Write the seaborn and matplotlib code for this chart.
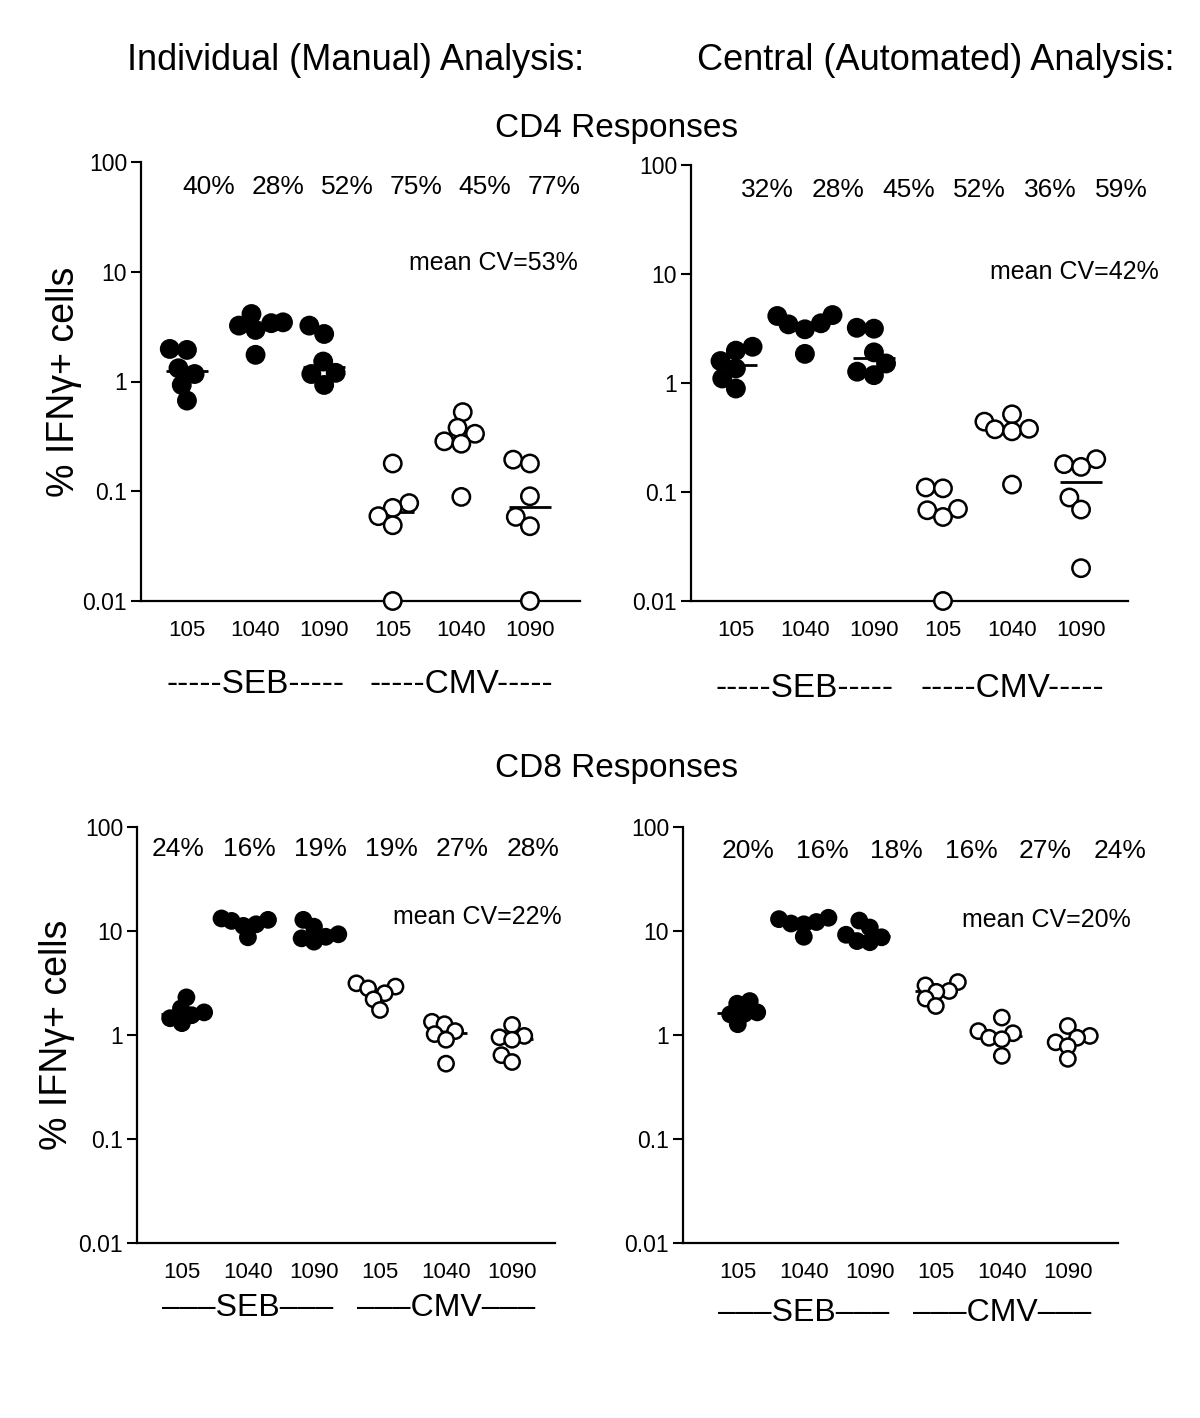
import numpy as np
import matplotlib
matplotlib.use('Agg')
import matplotlib.pyplot as plt
import pandas as pd
import seaborn as sns

# categories
stims = ['SEB', 'SEB', 'SEB', 'CMV', 'CMV', 'CMV']
donors = ['105', '1040', '1090', '105', '1040', '1090']

# % IFNg+ cells, six labs per group
cd4_manual = [
    [1.98, 1.94, 1.32, 1.17, 0.93, 0.67],
    [3.46, 3.23, 4.12, 2.95, 1.75, 3.40],
    [3.23, 2.71, 1.52, 1.20, 1.17, 0.93],
    [0.179, 0.078, 0.0705, 0.0593, 0.049, 0.01],
    [0.526, 0.379, 0.334, 0.285, 0.271, 0.0888],
    [0.194, 0.179, 0.090, 0.0584, 0.048, 0.01],
]
cd4_auto = [
    [2.15, 1.98, 1.59, 1.36, 1.10, 0.89],
    [4.12, 3.53, 4.20, 3.11, 1.85, 3.45],
    [3.21, 3.15, 1.91, 1.51, 1.27, 1.18],
    [0.11, 0.108, 0.070, 0.068, 0.059, 0.01],
    [0.516, 0.442, 0.376, 0.36, 0.38, 0.117],
    [0.20, 0.18, 0.17, 0.089, 0.069, 0.02],
]
cd8_manual = [
    [2.3, 1.8, 1.65, 1.55, 1.45, 1.3],
    [13.2, 12.8, 11.2, 11.6, 8.7, 12.5],
    [12.8, 11.0, 8.8, 7.9, 8.5, 9.3],
    [3.14, 2.92, 2.81, 2.52, 2.2, 1.74],
    [1.34, 1.27, 1.09, 1.02, 0.90, 0.53],
    [1.25, 0.98, 0.95, 0.90, 0.64, 0.55],
]
cd8_auto = [
    [2.12, 2.0, 1.58, 1.6, 1.27, 1.65],
    [13.4, 13.0, 11.6, 11.8, 8.8, 12.2],
    [12.6, 10.8, 8.7, 7.8, 8.0, 9.2],
    [3.23, 3.0, 2.65, 2.6, 2.24, 1.9],
    [1.47, 1.09, 1.04, 0.94, 0.91, 0.63],
    [1.22, 0.98, 0.94, 0.85, 0.78, 0.59],
]

# CV labels
cv4_manual = ['40%', '28%', '52%', '75%', '45%', '77%']
cv4_auto = ['32%', '28%', '45%', '52%', '36%', '59%']
cv8_manual = ['24%', '16%', '19%', '19%', '27%', '28%']
cv8_auto = ['20%', '16%', '18%', '16%', '27%', '24%']
mean_cv = ['mean CV=53%', 'mean CV=42%', 'mean CV=22%', 'mean CV=20%']

yticks = [0.01, 0.1, 1, 10, 100]
ytick_labels = ['0.01', '0.1', '1', '10', '100']

sns.set_style('ticks')
plt.rcParams['font.family'] = ['Liberation Sans', 'DejaVu Sans']
for key in ['text.color', 'axes.labelcolor', 'xtick.color', 'ytick.color', 'axes.edgecolor']:
    plt.rcParams[key] = 'black'

fig = plt.figure(figsize=(12, 14.18), dpi=100)

W, H = 1200, 1418
def rect(x0, y0, x1, y1):
    return [x0 / W, 1 - y1 / H, (x1 - x0) / W, (y1 - y0) / H]

panels = [
    dict(data=cd4_manual, cvs=cv4_manual, rect=rect(141, 162, 580, 601), xlim=(-0.67, 5.73),
         size=12.5, layout=10, pct=(0.155, 0.157, 0.943), cv=(0.995, 0.77), grp=-0.19,
         dash='-----', dsize=24, ylab=(-0.135, 0.5)),
    dict(data=cd4_auto, cvs=cv4_auto, rect=rect(691, 165, 1128, 601), xlim=(-0.65, 5.68),
         size=12.5, layout=10, pct=(0.174, 0.162, 0.943), cv=(1.07, 0.755), grp=-0.2,
         dash='-----', dsize=24, ylab=None),
    dict(data=cd8_manual, cvs=cv8_manual, rect=rect(137, 827, 555, 1243), xlim=(-0.68, 5.65),
         size=11, layout=7, pct=(0.098, 0.17, 0.947), cv=(1.017, 0.784), grp=-0.156,
         dash='\u2013\u2013\u2013', dsize=23, ylab=(-0.148, 0.5)),
    dict(data=cd8_auto, cvs=cv8_auto, rect=rect(683, 827, 1118, 1243), xlim=(-0.83, 5.76),
         size=11, layout=7, pct=(0.149, 0.171, 0.942), cv=(1.03, 0.776), grp=-0.168,
         dash='\u2013\u2013\u2013', dsize=23, ylab=None),
]

order = [f'{s} {d}' for s, d in zip(stims, donors)]
swarms = []

for k, p in enumerate(panels):
    ax = fig.add_axes(p['rect'])
    rows = []
    for g, vals in zip(order, p['data']):
        for v in vals:
            rows.append({'group': g, 'value': v, 'stim': g.split()[0]})
    df = pd.DataFrame(rows)

    # median bars
    sns.boxplot(data=df, x='group', y='value', order=order, log_scale=True,
                width=0.62, showbox=False, showcaps=False, showfliers=False,
                whiskerprops={'visible': False},
                medianprops={'color': 'black', 'linewidth': 2},
                ax=ax)
    for ln in ax.lines:
        ln.set_zorder(1)

    # swarm laid out with smaller markers so the clusters overlap like the original
    n_before = len(ax.collections)
    sns.swarmplot(data=df, x='group', y='value', order=order, hue='stim',
                  palette={'SEB': 'black', 'CMV': 'white'}, edgecolor='black',
                  linewidth=1.8, size=p['layout'], log_scale=True, legend=False,
                  clip_on=False, zorder=3, ax=ax)
    swarms.append((ax.collections[n_before:], p['size']))

    ax.set_ylim(0.01, 100)
    ax.set_xlim(*p['xlim'])
    ax.set_yticks(yticks)
    ax.set_yticklabels(ytick_labels)
    ax.yaxis.set_minor_locator(matplotlib.ticker.NullLocator())
    ax.set_xticks(range(6))
    ax.set_xticklabels(donors)
    ax.tick_params(axis='x', length=0, pad=14, labelsize=16)
    ax.tick_params(axis='y', length=7, width=1.5, pad=3, labelsize=16.5)
    for s in ['left', 'bottom']:
        ax.spines[s].set_linewidth(1.6)
    sns.despine(ax=ax)
    ax.set_xlabel('')
    if p['ylab'] is not None:
        ax.set_ylabel('% IFN\u03b3+ cells', fontsize=27)
        ax.yaxis.set_label_coords(*p['ylab'])
    else:
        ax.set_ylabel('')

    x0, step, ypct = p['pct']
    for i, lab in enumerate(p['cvs']):
        ax.text(x0 + i * step, ypct, lab, transform=ax.transAxes,
                ha='center', va='center', fontsize=19)
    ax.text(p['cv'][0], p['cv'][1], mean_cv[k], transform=ax.transAxes,
            ha='right', va='center', fontsize=18)

    tr = ax.get_xaxis_transform()
    d = p['dash']
    ax.text(1, p['grp'], f'{d}SEB{d}', transform=tr, ha='center', va='center', fontsize=p['dsize'])
    ax.text(4, p['grp'], f'{d}CMV{d}', transform=tr, ha='center', va='center', fontsize=p['dsize'])

fig.text(127 / W, 1 - 60 / H, 'Individual (Manual) Analysis:', ha='left', va='center', fontsize=26)
fig.text(697 / W, 1 - 60 / H, 'Central (Automated) Analysis:', ha='left', va='center', fontsize=26)
fig.text(617 / W, 1 - 128 / H, 'CD4 Responses', ha='center', va='center', fontsize=24)
fig.text(617 / W, 1 - 768 / H, 'CD8 Responses', ha='center', va='center', fontsize=24)

# seaborn lays the swarm out at draw time; do that once with the small markers,
# then freeze the positions and draw the circles at full size
fig.canvas.draw()
for colls, size in swarms:
    for coll in colls:
        coll.__dict__.pop('draw', None)
        coll.set_sizes(np.full(len(coll.get_offsets()), size ** 2))

fig.savefig('out.png', dpi=100)
